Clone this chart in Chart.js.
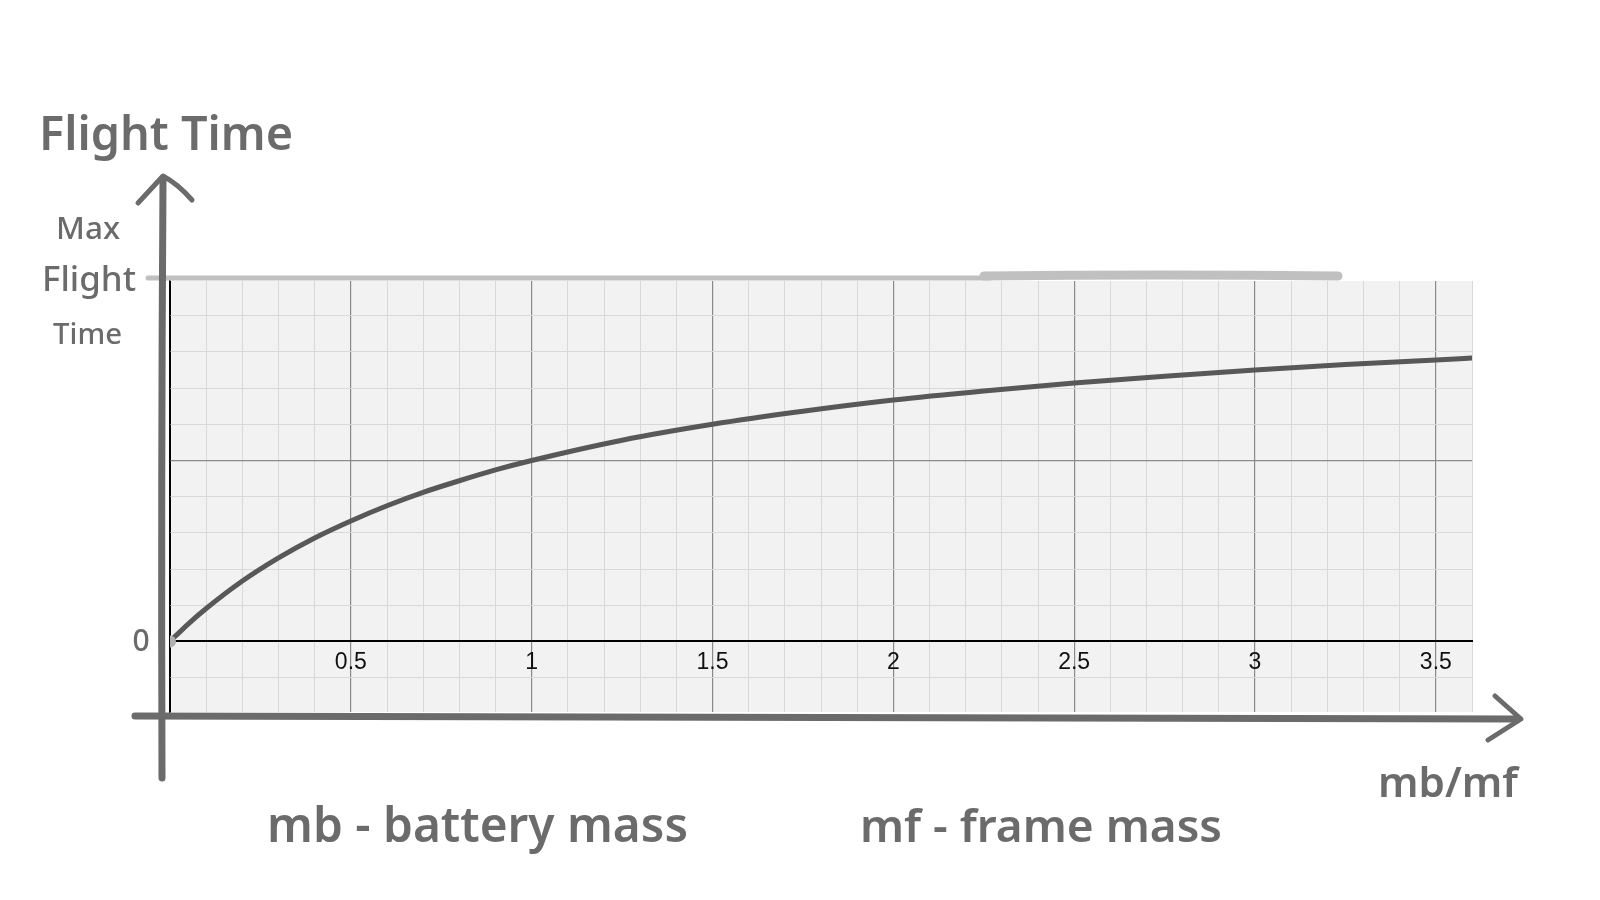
<!DOCTYPE html>
<html>
<head>
<meta charset="utf-8">
<script src="https://cdn.jsdelivr.net/npm/chart.js@4/dist/chart.umd.min.js"></script>
<style>
  html, body { margin: 0; padding: 0; background: #ffffff; }
  #wrap { width: 1600px; height: 900px; }
</style>
</head>
<body>
<div id="wrap"><canvas id="c" width="1600" height="900"></canvas></div>
<script>
// ---- data ----
const massRatio = [0, 0.05, 0.1, 0.2, 0.3, 0.4, 0.5, 0.6, 0.7, 0.8, 0.9, 1.0, 1.25, 1.5, 1.75, 2.0, 2.25, 2.5, 2.75, 3.0, 3.25, 3.5, 3.6];
const flightTime = [0, 0.048, 0.091, 0.167, 0.231, 0.286, 0.333, 0.375, 0.412, 0.444, 0.474, 0.5, 0.556, 0.6, 0.636, 0.667, 0.692, 0.714, 0.733, 0.75, 0.765, 0.778, 0.783];
const xTickValues = [0.5, 1, 1.5, 2, 2.5, 3, 3.5];
const xTickLabels = ['0.5', '1', '1.5', '2', '2.5', '3', '3.5'];
const yAxisTitle = 'Flight Time';
const yMaxLabel = ['Max', 'Flight', 'Time'];
const yZeroLabel = '0';
const xAxisTitle = 'mb/mf';
const notes = ['mb - battery mass', 'mf - frame mass'];

const points = massRatio.map((x, i) => ({ x: x, y: flightTime[i] }));

const INK = '#6b6b6b';
const HAND_FONT = '"Noto Sans", sans-serif';

function fitText(ctx, text, x1, x2, baseline, weight) {
  ctx.font = weight + ' 100px ' + HAND_FONT;
  const w = ctx.measureText(text).width;
  const size = 100 * (x2 - x1) / w;
  ctx.font = weight + ' ' + size.toFixed(2) + 'px ' + HAND_FONT;
  ctx.textAlign = 'left';
  ctx.textBaseline = 'alphabetic';
  ctx.fillText(text, x1, baseline);
}

const sketchPlugin = {
  id: 'sketch',
  beforeDraw(chart) {
    const { ctx, chartArea: a } = chart;
    ctx.save();
    ctx.fillStyle = '#f2f2f2';
    ctx.fillRect(a.left, a.top, a.right - a.left, a.bottom - a.top);
    ctx.restore();
  },
  afterDraw(chart) {
    const { ctx } = chart;
    ctx.save();
    ctx.lineCap = 'round';
    ctx.lineJoin = 'round';

    // light grey "max" line
    ctx.strokeStyle = '#c0c0c0';
    ctx.lineWidth = 5;
    ctx.beginPath();
    ctx.moveTo(148, 278);
    ctx.lineTo(990, 278);
    ctx.stroke();
    ctx.lineWidth = 9;
    ctx.beginPath();
    ctx.moveTo(984, 276);
    ctx.quadraticCurveTo(1160, 274, 1338, 276);
    ctx.stroke();

    // hand-drawn axes
    ctx.strokeStyle = INK;
    ctx.lineWidth = 7;
    ctx.beginPath();
    ctx.moveTo(163, 180);
    ctx.quadraticCurveTo(161, 480, 162, 778);
    ctx.stroke();
    ctx.lineWidth = 5;
    ctx.beginPath();
    ctx.moveTo(138, 203);
    ctx.lineTo(163, 176);
    ctx.quadraticCurveTo(178, 184, 192, 200);
    ctx.stroke();

    ctx.lineWidth = 7;
    ctx.beginPath();
    ctx.moveTo(135, 716);
    ctx.quadraticCurveTo(800, 718, 1518, 719);
    ctx.stroke();
    ctx.lineWidth = 5;
    ctx.beginPath();
    ctx.moveTo(1495, 696);
    ctx.lineTo(1521, 719);
    ctx.lineTo(1488, 740);
    ctx.stroke();

    // texts
    ctx.fillStyle = INK;
    fitText(ctx, yAxisTitle, 39, 293, 150, '600');
    fitText(ctx, yMaxLabel[0], 56, 120, 239, '500');
    fitText(ctx, yMaxLabel[1], 42, 136, 291, '500');
    fitText(ctx, yMaxLabel[2], 53, 122, 344, '500');
    fitText(ctx, xAxisTitle, 1378, 1518, 797, '600');
    fitText(ctx, notes[0], 267, 688, 842, '600');
    fitText(ctx, notes[1], 860, 1222, 842, '600');

    ctx.font = '500 30px ' + HAND_FONT;
    ctx.textAlign = 'center';
    ctx.textBaseline = 'middle';
    ctx.fillText(yZeroLabel, 141, 642);
    ctx.restore();
  }
};

function gridColor(ctx) {
  const v = ctx.tick ? ctx.tick.value : 0;
  const k = Math.round(v * 10);
  if (k === 0) return '#000000';
  return (k % 5 === 0) ? '#8a8a8a' : '#d8d8d8';
}
function gridWidth(ctx) {
  const v = ctx.tick ? ctx.tick.value : 0;
  const k = Math.round(v * 10);
  if (k === 0) return 2;
  return (k % 5 === 0) ? 1.2 : 1;
}

new Chart(document.getElementById('c'), {
  type: 'line',
  data: {
    datasets: [{
      data: points,
      borderColor: '#585858',
      borderWidth: 5,
      borderCapStyle: 'round',
      cubicInterpolationMode: 'monotone',
      pointRadius: points.map((p, i) => i === 0 ? 6 : 0),
      pointBackgroundColor: '#b0b0b0',
      pointBorderWidth: 0,
      pointHoverRadius: 0,
      fill: false
    }]
  },
  options: {
    responsive: false,
    animation: false,
    events: [],
    layout: { padding: { left: 170, top: 281, right: 128, bottom: 188 } },
    plugins: { legend: { display: false }, tooltip: { enabled: false } },
    scales: {
      x: {
        type: 'linear',
        position: { y: 0 },
        min: 0,
        max: 3.6,
        grid: { color: gridColor, lineWidth: gridWidth, drawTicks: false },
        border: { display: true, color: '#000000', width: 2 },
        ticks: {
          stepSize: 0.1,
          autoSkip: false,
          maxRotation: 0,
          includeBounds: false,
          padding: 7,
          color: '#111111',
          font: { family: '"Liberation Sans", Arial, sans-serif', size: 23 },
          callback: (value) => {
            const idx = xTickValues.findIndex(v => Math.abs(v - value) < 1e-6);
            return idx >= 0 ? xTickLabels[idx] : '';
          }
        }
      },
      y: {
        type: 'linear',
        position: { x: 0 },
        min: -0.195,
        max: 0.996,
        grid: { color: gridColor, lineWidth: gridWidth, drawTicks: false },
        border: { display: true, color: '#000000', width: 1.5 },
        ticks: { stepSize: 0.1, includeBounds: false, display: false }
      }
    }
  },
  plugins: [sketchPlugin]
});
</script>
</body>
</html>
